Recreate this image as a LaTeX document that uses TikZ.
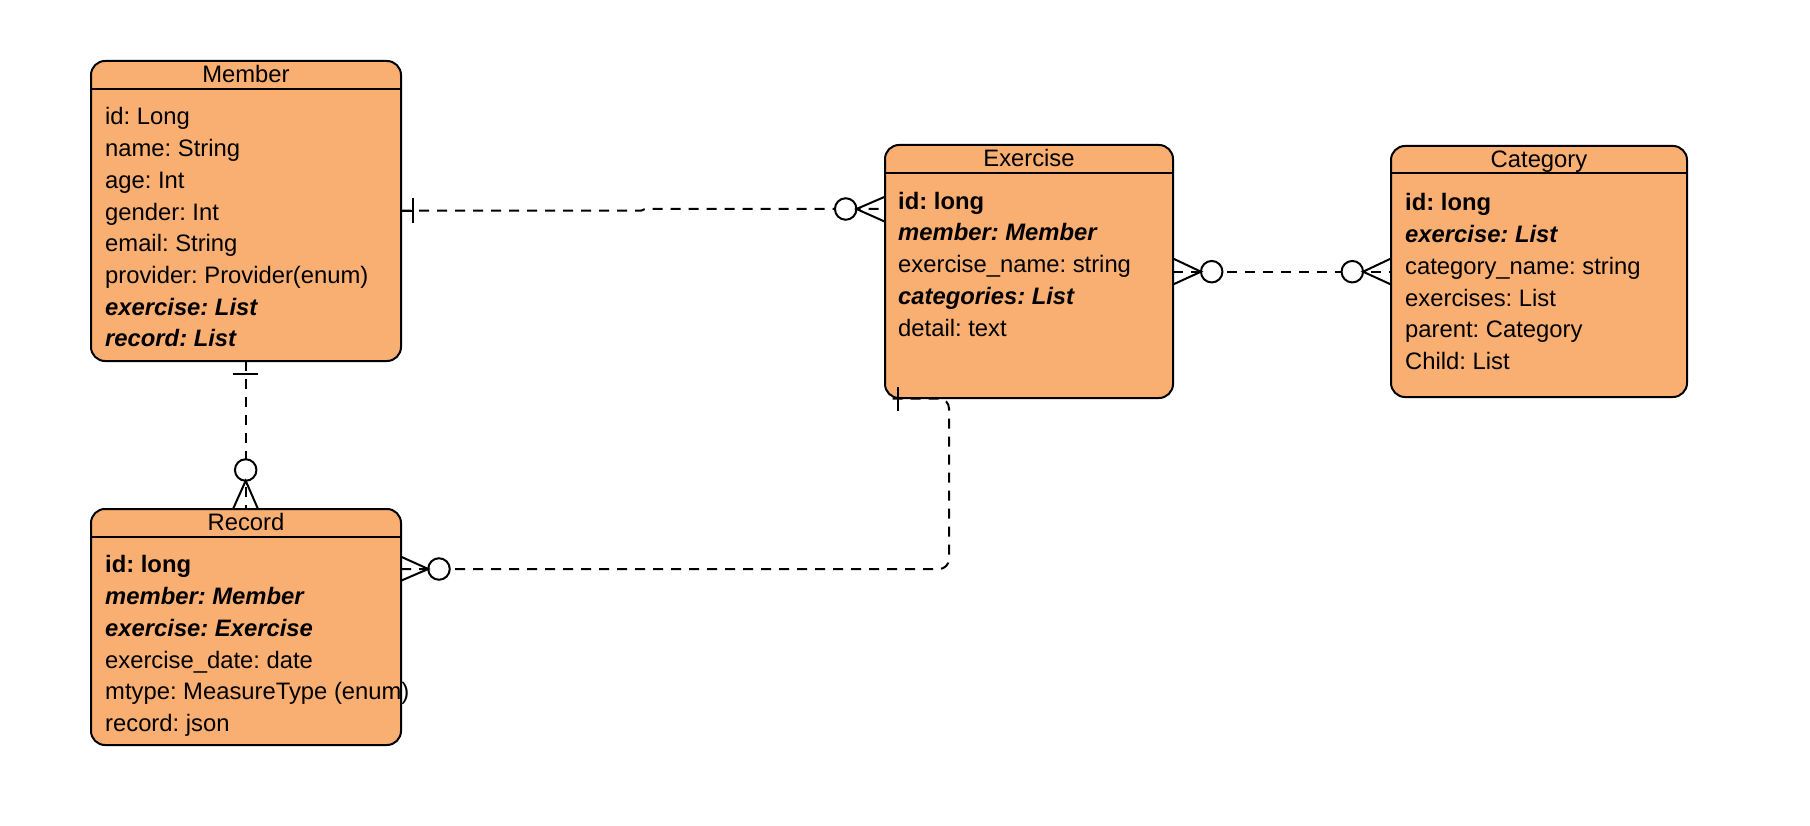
\documentclass[tikz,border=0pt]{standalone}
\usepackage{fontspec}
\setmainfont{Liberation Sans}
\frenchspacing
\definecolor{boxfill}{HTML}{F9AE72}
\tikzset{
  entity/.style={draw=black, line width=2pt, fill=boxfill, rounded corners=14pt, inner sep=0pt, outer sep=0pt},
  sepline/.style={line width=2pt},
  txt/.style={anchor=base west, inner sep=0pt, yshift=-1pt, font=\fontsize{23.8}{28}\selectfont},
  ttl/.style={anchor=base, inner sep=0pt, yshift=-1pt, font=\fontsize{23.8}{28}\selectfont},
  conn/.style={line width=2pt, dash pattern=on 10pt off 8pt},
  foot/.style={line width=2pt},
  zero/.style={circle, draw=black, line width=2pt, fill=white, minimum size=21.5pt, inner sep=0pt, outer sep=0pt},
}
\newcommand{\bi}[1]{\textbf{\textit{#1}}}
\begin{document}
\begin{tikzpicture}[x=1pt, y=-1pt]
\useasboundingbox (0,0) rectangle (1810,826);

% ---------- entity boxes ----------
\node[entity, minimum width=310pt, minimum height=300pt] (member) at (246,211) {};
\node[entity, minimum width=310pt, minimum height=236pt] (record) at (246,627) {};
\node[entity, minimum width=288pt, minimum height=253pt] (exercise) at (1029,271.5) {};
\node[entity, minimum width=296pt, minimum height=251pt] (category) at (1539,271.5) {};

\draw[sepline] (member.west |- 0,89) -- (member.east |- 0,89);
\draw[sepline] (record.west |- 0,537) -- (record.east |- 0,537);
\draw[sepline] (exercise.west |- 0,173) -- (exercise.east |- 0,173);
\draw[sepline] (category.west |- 0,173.5) -- (category.east |- 0,173.5);

% ---------- titles ----------
\node[ttl] (membertitle) at (246,82) {Member};
\node[ttl] (recordtitle) at (246,529) {Record};
\node[ttl] (exercisetitle) at (1029,165.5) {Exercise};
\node[ttl] (categorytitle) at (1539,167) {Category};

% ---------- Member fields ----------
\node[txt] (m1) at (105,124.0) {id: Long};
\node[txt] (m2) at (105,155.7) {name: String};
\node[txt] (m3) at (105,187.4) {age: Int};
\node[txt] (m4) at (105,219.1) {gender: Int};
\node[txt] (m5) at (105,250.8) {email: String};
\node[txt] (m6) at (105,282.5) {provider: Provider(enum)};
\node[txt] (m7) at (105,314.2) {\bi{exercise: List}};
\node[txt] (m8) at (105,345.9) {\bi{record: List}};

% ---------- Record fields ----------
\node[txt] (r1) at (105,571.7) {\textbf{id: long}};
\node[txt] (r2) at (105,603.5) {\bi{member: Member}};
\node[txt] (r3) at (105,635.3) {\bi{exercise: Exercise}};
\node[txt] (r4) at (105,667.1) {exercise\_date: date};
\node[txt] (r5) at (105,698.9) {mtype: MeasureType (enum)};
\node[txt] (r6) at (105,730.7) {record: json};

% ---------- Exercise fields ----------
\node[txt] (e1) at (898,208.3) {\textbf{id: long}};
\node[txt] (e2) at (898,240.0) {\bi{member: Member}};
\node[txt] (e3) at (898,271.7) {exercise\_name: string};
\node[txt] (e4) at (898,303.4) {\bi{categories: List}};
\node[txt] (e5) at (898,335.1) {detail: text};

% ---------- Category fields ----------
\node[txt] (c1t) at (1405,210.0) {\textbf{id: long}};
\node[txt] (c2t) at (1405,241.7) {\bi{exercise: List}};
\node[txt] (c3t) at (1405,273.4) {category\_name: string};
\node[txt] (c4t) at (1405,305.1) {exercises: List};
\node[txt] (c5t) at (1405,336.8) {parent: Category};
\node[txt] (c6t) at (1405,368.5) {Child: List};

% ---------- coordinates ----------
\coordinate (meA) at (401,210.7);
\coordinate (meJ1) at (641,210.7);
\coordinate (meJ2) at (645,209);
\coordinate (meB) at (885,209);
\coordinate (meBar1) at (413,198);
\coordinate (meBar2) at (413,223);
\coordinate (meF1) at (885,196.7);
\coordinate (meF2) at (885,221.7);

\coordinate (mrA) at (245.7,361);
\coordinate (mrB) at (245.7,509);
\coordinate (mrBar1) at (233,374);
\coordinate (mrBar2) at (258,374);
\coordinate (mrF1) at (233,509);
\coordinate (mrF2) at (258,509);

\coordinate (reA) at (401,569);
\coordinate (reK1) at (949,569);
\coordinate (reK2) at (949,398.5);
\coordinate (reB) at (885,398.5);
\coordinate (reF1) at (401,556.7);
\coordinate (reF2) at (401,580.7);
\coordinate (reBar1) at (898,386.7);
\coordinate (reBar2) at (898,410.7);

\coordinate (ecA) at (1173,271.7);
\coordinate (ecB) at (1391,271.7);
\coordinate (ecF1) at (1173,258.5);
\coordinate (ecF2) at (1173,284.5);
\coordinate (ecG1) at (1391,258.5);
\coordinate (ecG2) at (1391,284.5);

% ---------- Member -- Exercise ----------
\draw[conn] (meA) -- (meJ1) -- (meJ2) -- (meB);
\draw[foot] (meA) -- (meBar1 |- meA);
\draw[foot] (meBar1) -- (meBar2);
\node[zero] (z1) at (845.7,209) {};
\draw[foot] (meF1) -- (z1.east) -- (meF2);

% ---------- Member -- Record ----------
\draw[conn] (mrA) -- (mrB);
\draw[foot] (mrBar1) -- (mrBar2);
\node[zero] (z2) at (245.7,470) {};
\draw[foot] (mrF1) -- (z2.south) -- (mrF2);

% ---------- Record -- Exercise ----------
\draw[conn, rounded corners=10pt] (reA) -- (reK1) -- (reK2) -- (reB);
\node[zero] (z3) at (439,569) {};
\draw[foot] (reF1) -- (z3.west) -- (reF2);
\draw[foot] (reBar1) -- (reBar2);

% ---------- Exercise -- Category ----------
\draw[conn] (ecA) -- (ecB);
\node[zero] (z4) at (1211.7,271.7) {};
\node[zero] (z5) at (1352.3,271.7) {};
\draw[foot] (ecF1) -- (z4.west) -- (ecF2);
\draw[foot] (ecG1) -- (z5.east) -- (ecG2);
\end{tikzpicture}
\end{document}
